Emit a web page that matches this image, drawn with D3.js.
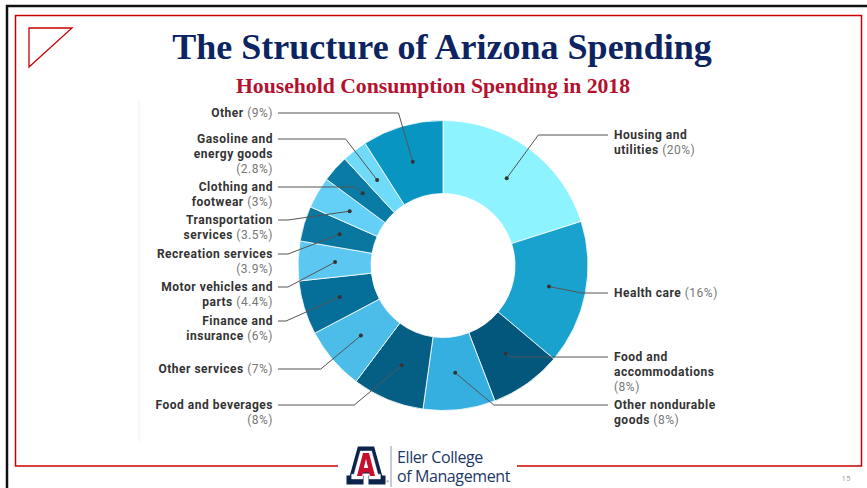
<!DOCTYPE html>
<html>
<head>
<meta charset="utf-8">
<script src="https://cdn.jsdelivr.net/npm/d3@7"></script>
<style>
  body { margin: 0; background: #fff; }
  svg { display: block; }
</style>
</head>
<body>
<svg width="867" height="488"></svg>
<script>
// categories, clockwise from 12 o'clock ("|" = line break in label)
var categories = [
  "Housing and|utilities",
  "Health care",
  "Food and|accommodations|",
  "Other nondurable|goods",
  "Food and beverages|",
  "Other services",
  "Finance and|insurance",
  "Motor vehicles and|parts",
  "Recreation services|",
  "Transportation|services",
  "Clothing and|footwear",
  "Gasoline and|energy goods|",
  "Other"
];
var shares = [20, 16, 8, 8, 8, 7, 6, 4.4, 3.9, 3.5, 3, 2.8, 9];
var colors = ["#8cf3ff", "#1aa2cf", "#03577c", "#34afdf", "#055e84", "#4bbde8",
              "#066f99", "#5cc8f2", "#0a77a1", "#65d0f7", "#0a7ba5", "#70dbf9", "#0895c2"];
// vertical spot of each label (first line), layout only
var labelY = [135, 293, 357, 405, 405, 369, 321, 287, 254, 220, 187, 139, 113];

var svg = d3.select("svg");
var width = +svg.attr("width"), height = +svg.attr("height");

// slide frame
svg.append("line").attr("x1", 6).attr("x2", width).attr("y1", 6).attr("y2", 6)
    .attr("stroke", "#111").attr("stroke-width", 2.5);
svg.append("line").attr("x1", 7).attr("x2", 7).attr("y1", 5).attr("y2", height)
    .attr("stroke", "#111").attr("stroke-width", 2.5);
svg.append("path")
    .attr("d", "M338,466 H15.5 V15.5 H861.5 V466 H517")
    .attr("fill", "none").attr("stroke", "#cc0000").attr("stroke-width", 1.5);
svg.append("path")
    .attr("d", "M29,28 H72 L29,67 Z")
    .attr("fill", "none").attr("stroke", "#cc0000").attr("stroke-width", 1.3);
svg.append("line").attr("x1", 139).attr("x2", 139).attr("y1", 100).attr("y2", 442)
    .attr("stroke", "#f2f2f2");

// titles
svg.append("text").attr("x", 442).attr("y", 59)
    .attr("text-anchor", "middle")
    .style("font-family", "'Liberation Serif', 'Times New Roman', serif")
    .style("font-weight", "bold").style("font-size", "36px")
    .attr("fill", "#0c2461")
    .text("The Structure of Arizona Spending");
svg.append("text").attr("x", 433).attr("y", 93)
    .attr("text-anchor", "middle")
    .style("font-family", "'Liberation Serif', 'Times New Roman', serif")
    .style("font-weight", "bold").style("font-size", "21.7px")
    .attr("fill", "#b5112f")
    .text("Household Consumption Spending in 2018");

// donut
var cx = 443, cy = 265.5, outerR = 145, innerR = 72, dotR = 108;

var pie = d3.pie().sort(null).value(function(d) { return d; });
var arcs = pie(shares);
var arc = d3.arc().innerRadius(innerR).outerRadius(outerR);
var dotArc = d3.arc().innerRadius(dotR).outerRadius(dotR);

var g = svg.append("g").attr("transform", "translate(" + cx + "," + cy + ")");

g.selectAll("path.slice")
  .data(arcs)
  .enter().append("path")
    .attr("class", "slice")
    .attr("d", arc)
    .attr("fill", function(d, i) { return colors[i]; })
    .attr("stroke", "#fff")
    .attr("stroke-width", 0.8);

// leader lines
var leftLineX = 278 - cx, rightLineX = 608 - cx;

function leader(d, i) {
  var p = dotArc.centroid(d);
  var mid = (d.startAngle + d.endAngle) / 2;
  var left = mid > Math.PI;
  var ly = labelY[i] - cy;
  var dy = ly - p[1];
  var dirX = Math.sin(mid), dirY = -Math.cos(mid);
  var ex;
  if (dirY !== 0 && dy / dirY > 0) {
    ex = p[0] + dirX * dy / dirY;
    if (dy > 0) {
      var minDx = Math.abs(dy) * 1.2;
      if (Math.abs(ex - p[0]) < minDx) ex = p[0] + (left ? -minDx : minDx);
    }
  } else {
    ex = left ? leftLineX + 10 : rightLineX - 10;
  }
  if (left) ex = Math.max(ex, leftLineX + 8);
  else ex = Math.min(ex, rightLineX - 5);
  var endX = left ? leftLineX : rightLineX;
  return "M" + p[0] + "," + p[1] + " L" + ex + "," + ly + " H" + endX;
}

g.selectAll("path.leader")
  .data(arcs)
  .enter().append("path")
    .attr("class", "leader")
    .attr("d", leader)
    .attr("fill", "none")
    .attr("stroke", "#555")
    .attr("stroke-width", 1);

g.selectAll("circle.dot")
  .data(arcs)
  .enter().append("circle")
    .attr("class", "dot")
    .attr("cx", function(d) { return dotArc.centroid(d)[0]; })
    .attr("cy", function(d) { return dotArc.centroid(d)[1]; })
    .attr("r", 2)
    .attr("fill", "#333");

// labels
var labels = svg.append("g")
    .style("font-family", "Roboto, 'Noto Sans', sans-serif")
    .style("font-size", "12px")
    .style("letter-spacing", "0.5px");

arcs.forEach(function(d, i) {
  var mid = (d.startAngle + d.endAngle) / 2;
  var left = mid > Math.PI;
  var parts = categories[i].split("|");
  var pct = "(" + shares[i] + "%)";
  var x = left ? 273 : 614;
  var t = labels.append("text")
      .attr("text-anchor", left ? "end" : "start")
      .attr("x", x)
      .attr("y", labelY[i] + 4.3);
  parts.forEach(function(line, j) {
    if (line === "") {
      t.append("tspan").attr("x", x).attr("dy", j ? 15 : 0)
          .attr("fill", "#777").text(pct);
      return;
    }
    t.append("tspan").attr("x", x).attr("dy", j ? 15 : 0)
        .attr("fill", "#333").style("font-weight", "bold").text(line);
    if (j === parts.length - 1) {
      t.append("tspan").attr("fill", "#777").text(" " + pct);
    }
  });
});

// footer logo
var logo = svg.append("g").attr("transform", "translate(346,446)");
var aShape = "M13,2 H27 L35,31 H38 V37 H24 V31 H26 L24.5,26 H15.5 L14,31 H16 V37 H2 V31 H5 Z";
logo.append("path").attr("d", aShape).attr("fill", "#0c234b")
    .attr("stroke", "#0c234b").attr("stroke-width", 3).attr("stroke-linejoin", "miter");
logo.append("path").attr("d", aShape).attr("fill", "#fff")
    .attr("stroke", "#fff").attr("stroke-width", 0.5)
    .attr("transform", "translate(4,3.4) scale(0.8)");
logo.append("path").attr("d", "M17,7 H23 L29,30 H24 L23,26.5 H17 L16,30 H11 Z")
    .attr("fill", "#c8102e");
logo.append("path").attr("d", "M20,13 L22.2,22 H17.8 Z").attr("fill", "#fff");
logo.append("text").attr("x", 40).attr("y", 37).style("font-size", "4px")
    .attr("fill", "#0c234b").text("®");

svg.append("line").attr("x1", 391).attr("x2", 391).attr("y1", 446).attr("y2", 487)
    .attr("stroke", "#8a96ad").attr("stroke-width", 1);
var logoText = svg.append("g")
    .style("font-family", "'Open Sans', sans-serif").style("font-size", "16px")
    .style("letter-spacing", "-0.4px")
    .attr("fill", "#1c3868");
logoText.append("text").attr("x", 397).attr("y", 463).text("Eller College");
logoText.append("text").attr("x", 397).attr("y", 482).text("of Management");

svg.append("text").attr("x", 846).attr("y", 481)
    .attr("text-anchor", "middle")
    .style("font-family", "Roboto, sans-serif").style("font-size", "8px")
    .attr("fill", "#aaa").text("15");
</script>
</body>
</html>
